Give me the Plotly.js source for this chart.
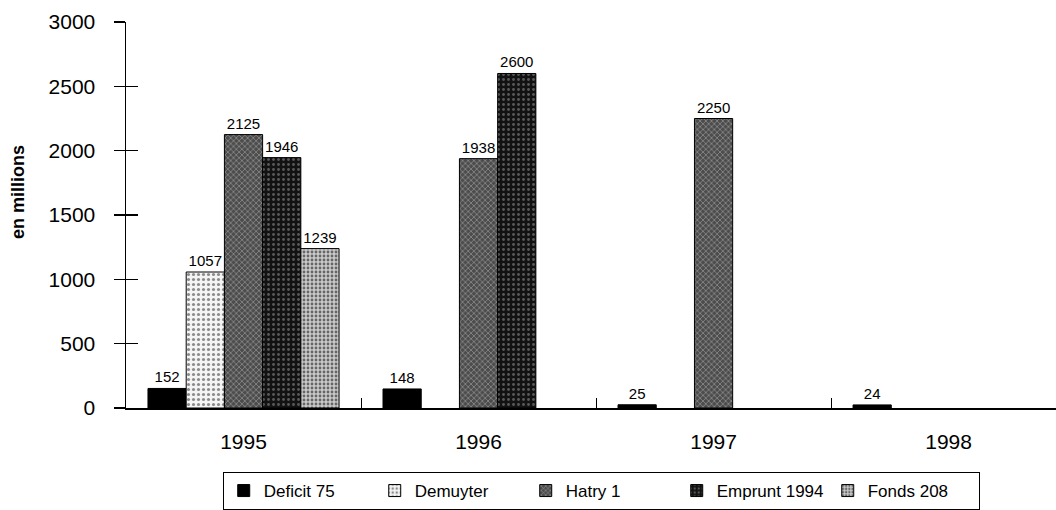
<!DOCTYPE html>
<html>
<head>
<meta charset="utf-8">
<script src="https://cdn.plot.ly/plotly-3.0.1.min.js"></script>
<style>html,body{margin:0;padding:0;background:#fff;}#chart{width:1056px;height:510px;}</style>
</head>
<body>
<div id="chart"></div>
<script>
const categories = ['1995', '1996', '1997', '1998'];
const seriesNames = ['Deficit 75', 'Demuyter', 'Hatry 1', 'Emprunt 1994', 'Fonds 208'];
const deficit75 = [152, 148, 25, 24];
const demuyter = [1057, null, null, null];
const hatry1 = [2125, 1938, 2250, null];
const emprunt1994 = [1946, 2600, null, null];
const fonds208 = [1239, null, null, null];
const yTicks = [0, 500, 1000, 1500, 2000, 2500, 3000];
const yTitle = 'en millions';

const FONT = 'Liberation Sans, Arial, sans-serif';
const styles = [
  {color: '#000000', pattern: null},
  {color: '#eeeeee', pattern: {shape: '.', bgcolor: '#f4f4f4', fgcolor: '#8a8a8a', size: 5, solidity: 0.3}},
  {color: '#555555', pattern: {shape: 'x', bgcolor: '#4c4c4c', fgcolor: '#9a9a9a', size: 4, solidity: 0.3}},
  {color: '#151515', pattern: {shape: '.', bgcolor: '#121212', fgcolor: '#5a5a5a', size: 5, solidity: 0.25}},
  {color: '#bdbdbd', pattern: {shape: '.', bgcolor: '#cacaca', fgcolor: '#666666', size: 4, solidity: 0.4}}
];
const values = [deficit75, demuyter, hatry1, emprunt1994, fonds208];

const traces = values.map((v, i) => {
  const marker = {color: styles[i].color, line: {color: '#000', width: 1}};
  if (styles[i].pattern) marker.pattern = Object.assign({fillmode: 'replace'}, styles[i].pattern);
  return {
    type: 'bar', name: seriesNames[i], x: categories, y: v,
    marker: marker,
    texttemplate: '%{y}', textposition: 'outside', constraintext: 'none',
    textfont: {family: FONT, size: 15, color: '#000'},
    cliponaxis: false, hoverinfo: 'x+y+name'
  };
});

const layout = {
  width: 1056, height: 510,
  margin: {l: 126, r: 0, t: 22, b: 102},
  paper_bgcolor: '#fff', plot_bgcolor: '#fff',
  font: {family: FONT, color: '#000'},
  barmode: 'group', bargap: 0.187, bargroupgap: 0,
  xaxis: {
    type: 'category', range: [-0.5, 3.457],
    showline: true, linecolor: '#000', linewidth: 1.5,
    ticks: 'inside', tickson: 'boundaries', ticklen: 10, tickcolor: '#000', tickwidth: 1,
    showgrid: false, zeroline: false,
    tickfont: {family: FONT, size: 21, color: '#000'},
    ticklabelstandoff: 14
  },
  yaxis: {
    range: [0, 3000], tickvals: yTicks,
    showline: true, linecolor: '#000', linewidth: 1.5,
    ticks: 'outside', ticklen: 11, tickcolor: '#000', tickwidth: 1.5,
    showgrid: false, zeroline: false,
    tickfont: {family: FONT, size: 21, color: '#000'},
    ticklabelstandoff: 14
  },
  yaxis2: {
    overlaying: 'y', anchor: 'x', side: 'left', range: [0, 3000], tickvals: yTicks,
    ticks: 'inside', ticklen: 12, tickcolor: '#000', tickwidth: 1.5,
    showticklabels: false, showline: false, showgrid: false, zeroline: false
  },
  annotations: [{
    text: '<b>' + yTitle + '</b>', textangle: -90, xref: 'paper', yref: 'paper',
    x: -0.116, y: 0.56, xanchor: 'center', yanchor: 'middle', showarrow: false,
    font: {family: FONT, size: 18, color: '#000'}
  }],
  showlegend: true,
  legend: {
    orientation: 'h', x: 0.104, y: -0.166, xanchor: 'left', yanchor: 'top',
    bordercolor: '#000', borderwidth: 1, bgcolor: '#fff',
    font: {family: FONT, size: 17, color: '#000'},
    entrywidth: 106, traceorder: 'normal'
  }
};

// invisible helper trace to activate yaxis2 ticks
traces.push({type: 'scatter', x: [categories[0]], y: [0], yaxis: 'y2', mode: 'markers',
  marker: {opacity: 0}, showlegend: false, hoverinfo: 'skip'});

Plotly.newPlot('chart', traces, layout, {displayModeBar: false, staticPlot: true});
</script>
</body>
</html>
